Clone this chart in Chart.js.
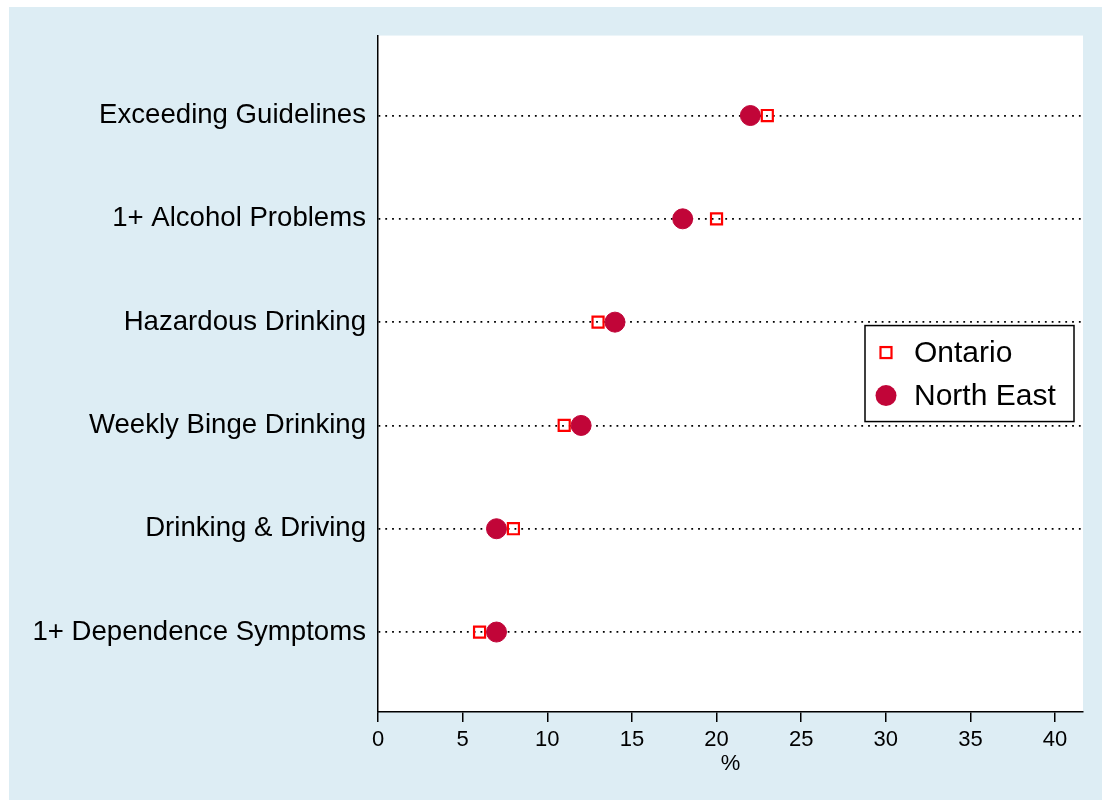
<!DOCTYPE html>
<html>
<head>
<meta charset="utf-8">
<script src="https://cdn.jsdelivr.net/npm/chart.js@4/dist/chart.umd.min.js"></script>
<style>
  body { margin: 0; background: #fff; }
  #wrap { position: absolute; left: 9px; top: 7px; width: 1093px; height: 793px; background: #ddedf4; }
</style>
</head>
<body>
<div id="wrap"><canvas id="chart" width="1093" height="793"></canvas></div>
<script>
// data
const categories = [
    "Exceeding Guidelines",
    "1+ Alcohol Problems",
    "Hazardous Drinking",
    "Weekly Binge Drinking",
    "Drinking & Driving",
    "1+ Dependence Symptoms"
];
const ontario = [23, 20, 13, 11, 8, 6];
const northEast = [22, 18, 14, 12, 7, 7];
const xTicks = [0, 5, 10, 15, 20, 25, 30, 35, 40];
const seriesNames = ["Ontario", "North East"];

const red = "#ff0000";
const crimson = "#c10538";
const font = "'Liberation Sans', Arial, sans-serif";

// white plot area
const plotBg = {
    id: "plotBg",
    beforeDraw(chart) {
        const { ctx, chartArea: a } = chart;
        ctx.save();
        ctx.fillStyle = "#fff";
        ctx.fillRect(a.left, a.top, a.right - a.left, a.bottom - a.top);
        ctx.restore();
    }
};

// boxed legend inside the plot
const boxLegend = {
    id: "boxLegend",
    afterDraw(chart) {
        const { ctx, chartArea: a } = chart;
        const left = a.right - 218, top = a.top + 290, w = 209, h = 96;
        ctx.save();
        ctx.fillStyle = "#fff";
        ctx.fillRect(left, top, w, h);
        ctx.strokeStyle = "#000";
        ctx.lineWidth = 1.5;
        ctx.strokeRect(left, top, w, h);

        const mx = left + 21;
        const y1 = top + 27, y2 = top + 70;
        ctx.strokeStyle = red;
        ctx.lineWidth = 2.2;
        ctx.strokeRect(mx - 5.5, y1 - 5.5, 11, 11);
        ctx.fillStyle = crimson;
        ctx.beginPath();
        ctx.arc(mx, y2, 10.5, 0, Math.PI * 2);
        ctx.fill();

        ctx.fillStyle = "#000";
        ctx.font = "30px " + font;
        ctx.textBaseline = "middle";
        ctx.fillText(seriesNames[0], left + 49, y1 + 1);
        ctx.fillText(seriesNames[1], left + 49, y2 + 1);
        ctx.restore();
    }
};

const ctx = document.getElementById("chart").getContext("2d");
new Chart(ctx, {
    type: "scatter",
    data: {
        datasets: [
            {
                label: seriesNames[0],
                data: ontario.map((v, i) => ({ x: v, y: i })),
                pointStyle: "rect",
                pointRadius: 7.8,
                pointBorderWidth: 2.2,
                borderColor: red,
                backgroundColor: "rgba(0,0,0,0)",
                order: 2
            },
            {
                label: seriesNames[1],
                data: northEast.map((v, i) => ({ x: v, y: i })),
                pointStyle: "circle",
                pointRadius: 10,
                pointBorderWidth: 1,
                borderColor: crimson,
                backgroundColor: crimson,
                order: 1
            }
        ]
    },
    options: {
        responsive: false,
        animation: false,
        layout: { padding: { top: 28, right: 19, left: 0, bottom: 23 } },
        plugins: {
            legend: { display: false },
            tooltip: { enabled: false }
        },
        scales: {
            x: {
                type: "linear",
                min: 0,
                max: 41.65,
                afterBuildTicks: (s) => { s.ticks = xTicks.map((v) => ({ value: v })); },
                afterFit: (s) => { s.height = 65; },
                ticks: {
                    color: "#000",
                    font: { family: font, size: 22 },
                    padding: 5,
                    maxRotation: 0
                },
                grid: {
                    drawOnChartArea: false,
                    drawTicks: true,
                    tickLength: 10,
                    color: "#000",
                    lineWidth: 1.5
                },
                border: { display: true, color: "#000", width: 1.5 },
                title: {
                    display: true,
                    text: "%",
                    color: "#000",
                    font: { family: font, size: 22 },
                    padding: { top: 0, bottom: 0 }
                }
            },
            y: {
                type: "linear",
                reverse: true,
                min: -0.774,
                max: 5.774,
                afterBuildTicks: (s) => { s.ticks = categories.map((c, i) => ({ value: i })); },
                afterFit: (s) => { s.width = 369; },
                ticks: {
                    color: "#000",
                    font: { family: font, size: 27.6 },
                    padding: 12,
                    callback: (v) => categories[v]
                },
                grid: {
                    drawTicks: false,
                    color: "#000",
                    lineWidth: 1.8
                },
                border: { display: true, color: "#000", width: 1.5, dash: [1.8, 5] }
            }
        }
    },
    plugins: [plotBg, boxLegend]
});
</script>
</body>
</html>
